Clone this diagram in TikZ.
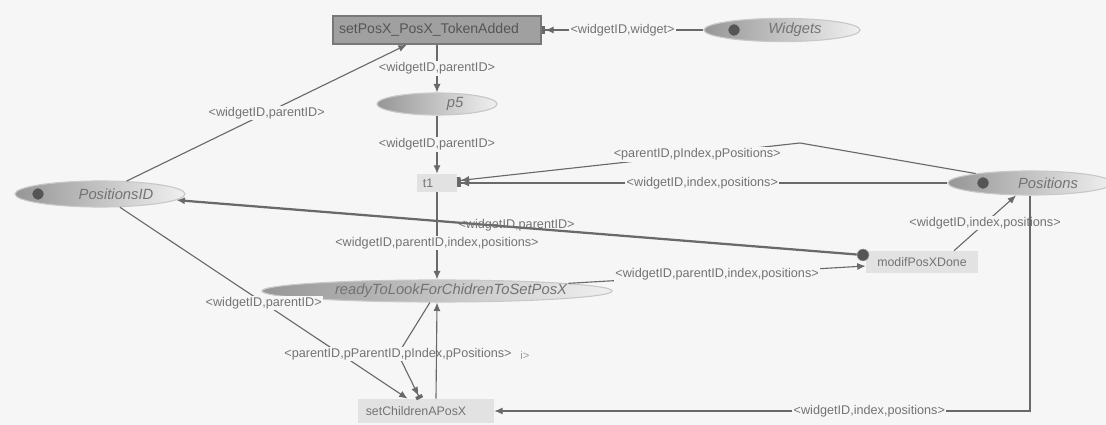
\documentclass[tikz,border=0pt]{standalone}
\usepackage{fontspec}
\setmainfont{Liberation Sans}
\usetikzlibrary{arrows.meta,shapes.geometric}
\definecolor{softBack}{RGB}{246,246,246}
\definecolor{lineGray}{RGB}{105,105,105}
\definecolor{textGray}{RGB}{115,115,115}
\definecolor{placeDark}{RGB}{150,150,150}
\definecolor{placeLight}{RGB}{240,240,240}
\definecolor{placeRim}{RGB}{200,200,200}
\definecolor{transDark}{RGB}{160,160,160}
\definecolor{transRim}{RGB}{120,120,120}
\definecolor{transLight}{RGB}{226,226,226}
\definecolor{tokenGray}{RGB}{85,85,85}
\newcommand{\ShiftText}[2]{\makebox[0pt]{\hspace*{#1}#2}}
\newcommand{\ShiftTextL}[2]{\makebox[0pt]{#2\hspace*{#1}}}

\begin{document}
\begin{tikzpicture}[x=0.025cm,y=-0.025cm,
  place/.style={ellipse,draw=placeRim,line width=0.8pt,left color=placeDark,right color=placeLight,inner sep=0pt,minimum height=0.58cm,text=textGray,font=\itshape\fontsize{10.5}{12}\selectfont},
  trans/.style={rectangle,fill=transLight,text=textGray,inner sep=0pt,minimum height=0.55cm,font=\fontsize{8.8}{10}\selectfont},
  token/.style={circle,fill=tokenGray,draw=tokenGray!50!white,inner sep=0pt,minimum size=0.3cm},
  arc/.style={draw=lineGray,line width=0.8pt,-{Latex[length=6pt,width=5pt]}},
  inarc/.style={draw=lineGray,line width=0.8pt,-{Latex[length=6pt,width=5pt]Square[length=2.5pt,width=5pt]}},
  lbl/.style={fill=softBack,text=textGray,inner sep=1pt,font=\fontsize{9}{10}\selectfont}]
\fill[softBack] (0,0) rectangle (1106,425);
\useasboundingbox (0,0) rectangle (1106,425);

\node[place,minimum width=3.9cm] (widgets) at (782,30) {\ShiftText{0.65cm}{Widgets}};
\node[token] (wTok) at (734,30) {};
\node[place,minimum width=3cm,minimum height=0.55cm] (p5) at (437,104) {\ShiftText{0.9cm}{p5}};
\node[place,minimum width=4.25cm,minimum height=0.65cm] (posid) at (100,194) {\ShiftText{0.8cm}{PositionsID}};
\node[token] (idTok) at (38,194) {};
\node[place,minimum width=4.1cm,minimum height=0.6cm] (pos) at (1030,183) {\ShiftText{0.9cm}{Positions}};
\node[token] (pTok) at (983,183) {};
\node[place,minimum width=8.75cm,minimum height=0.55cm] (ready) at (437,291) {\ShiftText{0.7cm}{readyToLookForChidrenToSetPosX}};

\node[trans,fill=transDark,draw=transRim,line width=1pt,minimum width=5.2cm,minimum height=0.7cm,text=tokenGray,font=\fontsize{10}{11}\selectfont] (setpos) at (437,30) {\ShiftTextL{0.4cm}{setPosX\_PosX\_TokenAdded}};
\node[trans,minimum width=1cm,minimum height=0.45cm] (t1) at (437,183) {\ShiftTextL{0.45cm}{t1}};
\node[trans,minimum width=2.8cm] (modif) at (922,262) {modifPosXDone};
\node[token] (mdot) at (863,255) {};
\node[trans,minimum width=3.4cm,minimum height=0.6cm] (setch) at (426,411) {\ShiftTextL{0.5cm}{setChildrenAPosX}};

\coordinate (bendA) at (800,143);
\coordinate (bendB) at (398,354);

\draw[inarc] (widgets) -- node[lbl]{<widgetID,widget>} (setpos);
\draw[arc] (posid) -- node[lbl]{<widgetID,parentID>} (setpos);
\draw[arc] (setpos) -- node[lbl]{<widgetID,parentID>} (p5);
\draw[arc] (p5) -- node[lbl]{<widgetID,parentID>} (t1);
\draw[inarc] (pos) -- node[lbl]{<widgetID,index,positions>} (t1);
\draw[inarc] (pos) -- (bendA) -- node[lbl,pos=0.3]{<parentID,pIndex,pPositions>} (t1);
\draw[arc] (t1) -- node[lbl,pos=0.58]{<widgetID,parentID,index,positions>} (ready);
\draw[arc,line width=1.6pt] (mdot) -- node[text=textGray,font=\fontsize{9}{10}\selectfont,yshift=0.05cm]{<widgetID,parentID>} (posid);
\draw[arc] (ready) -- node[lbl]{<widgetID,parentID,index,positions>} ([yshift=-0.1cm]modif.west);
\draw[arc] ([xshift=0.8cm]modif.north) -- node[lbl]{<widgetID,index,positions>} (pos);
\draw[arc] (pos) -- (pos |- setch) -- node[lbl,pos=0.3]{<widgetID,index,positions>} (setch);
\draw[arc] (posid) -- node[lbl]{<widgetID,parentID>} (setch);
\draw[inarc] (ready) -- (bendB) node[lbl]{<parentID,pParentID,pIndex,pPositions>} -- (setch);
\draw[arc] ([xshift=0.25cm]setch.north) -- (ready.south);
\node[text=textGray!70,font=\fontsize{8}{9}\selectfont] (hidLbl) at (525,355) {i>};
\end{tikzpicture}
\end{document}
